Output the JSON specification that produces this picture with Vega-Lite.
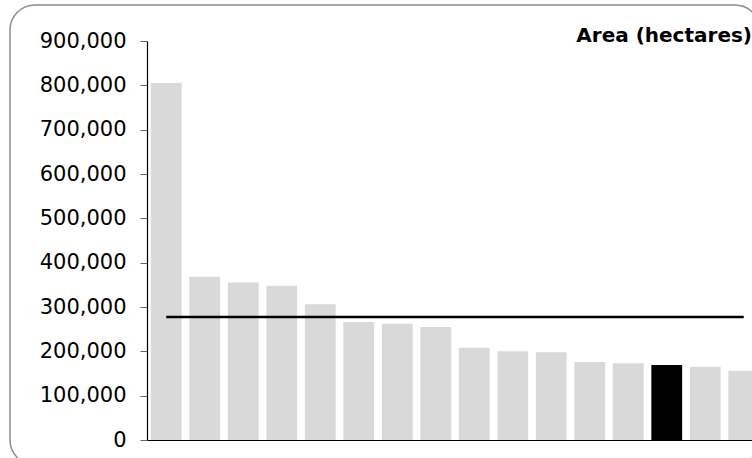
{
  "$schema": "https://vega.github.io/schema/vega-lite/v6.json",
  "autosize": {"type": "none"},
  "width": 750,
  "height": 460,
  "padding": {"left": 10, "top": 5, "right": 0, "bottom": 0},
  "background": "white",
  "config": {
    "font": "DejaVu Sans",
    "view": {"stroke": "#8c8c8c", "strokeWidth": 1.5, "cornerRadius": 25, "fill": "white"}
  },
  "title": {
    "text": "Area (hectares)",
    "anchor": "end",
    "frame": "group",
    "orient": "top",
    "offset": 0,
    "dx": -8,
    "dy": 57,
    "baseline": "alphabetic",
    "font": "DejaVu Sans",
    "fontSize": 20,
    "fontWeight": "bold",
    "color": "black"
  },
  "data": {
    "values": [
      {"site": "Site 1", "area": 805000, "average": 277500, "group": "other"},
      {"site": "Site 2", "area": 368000, "average": 277500, "group": "other"},
      {"site": "Site 3", "area": 355000, "average": 277500, "group": "other"},
      {"site": "Site 4", "area": 348000, "average": 277500, "group": "other"},
      {"site": "Site 5", "area": 306000, "average": 277500, "group": "other"},
      {"site": "Site 6", "area": 266000, "average": 277500, "group": "other"},
      {"site": "Site 7", "area": 262000, "average": 277500, "group": "other"},
      {"site": "Site 8", "area": 255000, "average": 277500, "group": "other"},
      {"site": "Site 9", "area": 208000, "average": 277500, "group": "other"},
      {"site": "Site 10", "area": 200000, "average": 277500, "group": "other"},
      {"site": "Site 11", "area": 198000, "average": 277500, "group": "other"},
      {"site": "Site 12", "area": 176000, "average": 277500, "group": "other"},
      {"site": "Site 13", "area": 173000, "average": 277500, "group": "other"},
      {"site": "Site 14", "area": 169000, "average": 277500, "group": "selected"},
      {"site": "Site 15", "area": 165000, "average": 277500, "group": "other"},
      {"site": "Site 16", "area": 156000, "average": 277500, "group": "other"}
    ]
  },
  "encoding": {
    "x": {
      "field": "site",
      "type": "nominal",
      "sort": null,
      "scale": {"range": [137, 753], "paddingInner": 0.2, "paddingOuter": 0.1},
      "axis": {
        "orient": "bottom",
        "offset": -25,
        "labels": false,
        "ticks": false,
        "title": null,
        "grid": false,
        "domainColor": "black",
        "domainWidth": 1.2
      }
    }
  },
  "layer": [
    {
      "mark": {"type": "bar"},
      "encoding": {
        "y": {
          "field": "area",
          "type": "quantitative",
          "scale": {"domain": [0, 900000], "range": [435, 36], "nice": false, "zero": true},
          "axis": {
            "orient": "left",
            "offset": -137,
            "values": [0, 100000, 200000, 300000, 400000, 500000, 600000, 700000, 800000, 900000],
            "format": ",.0f",
            "title": null,
            "grid": false,
            "labelFont": "DejaVu Sans",
            "labelFontSize": 21,
            "labelColor": "black",
            "labelPadding": 14,
            "tickSize": 7,
            "tickColor": "#666666",
            "domainColor": "black",
            "domainWidth": 1.2
          }
        },
        "color": {
          "field": "group",
          "type": "nominal",
          "scale": {"domain": ["other", "selected"], "range": ["#d9d9d9", "#000000"]},
          "legend": null
        }
      }
    },
    {
      "mark": {"type": "line", "color": "black", "strokeWidth": 2.5},
      "encoding": {
        "y": {"field": "average", "type": "quantitative"}
      }
    }
  ]
}
